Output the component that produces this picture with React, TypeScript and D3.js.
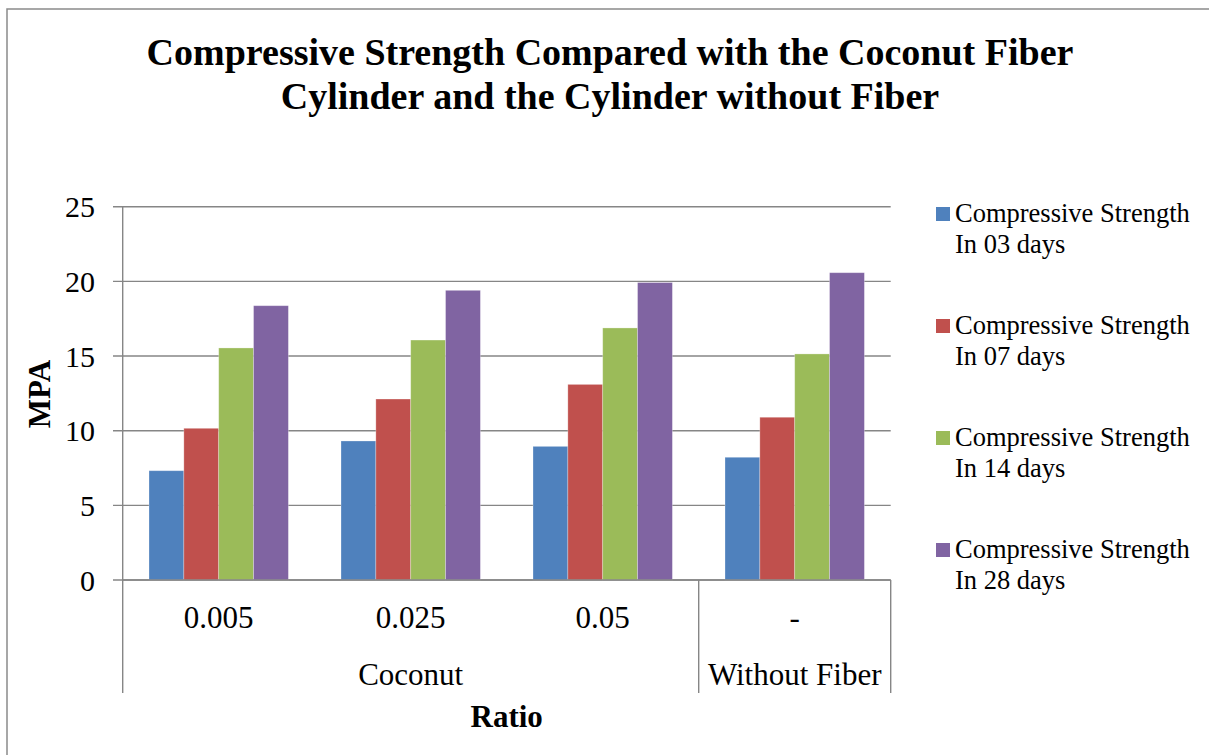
import React from "react";
import * as d3 from "d3";

const categories = ["0.005", "0.025", "0.05", "-"];
const groupLabels = ["Coconut", "Without Fiber"];
const groupSpans = [3, 1];
const seriesKeys = ["d03", "d07", "d14", "d28"];
const seriesLine1 = ["Compressive Strength", "Compressive Strength", "Compressive Strength", "Compressive Strength"];
const seriesLine2 = ["In 03 days", "In 07 days", "In 14 days", "In 28 days"];
const seriesColors = ["#4F81BD", "#C0504D", "#9BBB59", "#8064A2"];
const s03 = [7.32, 9.31, 8.95, 8.22];
const s07 = [10.16, 12.12, 13.1, 10.9];
const s14 = [15.54, 16.07, 16.88, 15.14];
const s28 = [18.37, 19.4, 19.92, 20.58];
const seriesValues = [s03, s07, s14, s28];
const yTicks = [0, 5, 10, 15, 20, 25];
const titleLines = ["Compressive Strength Compared with the Coconut Fiber", "Cylinder and the Cylinder without Fiber"];

const W = 1209;
const H = 755;
const plotL = 122.7;
const plotR = 890.7;
const plotT = 206.7;
const plotB = 580;
const font = "Tinos, 'Times New Roman', Times, 'Liberation Serif', 'DejaVu Serif', serif";
const grid = "#868686";
const ts = { fontFamily: font };

export default function App() {
  const x0 = d3.scaleBand<string>().domain(categories).range([plotL, plotR]).paddingInner(0.274).paddingOuter(0.137);
  const x1 = d3.scaleBand<string>().domain(seriesKeys).range([0, x0.bandwidth()]);
  const y = d3.scaleLinear().domain([0, 25]).range([plotB, plotT]);
  const step = x0.step();

  let acc = 0;
  const groupBounds = groupSpans.map((s) => {
    const a = acc;
    acc += s;
    return [a, acc];
  });

  return (
    <svg width={W} height={H} style={{ position: "absolute", left: 0, top: 0, background: "#fff", fontFamily: font }}>
      <rect x={7} y={9} width={W + 10} height={H + 10} fill="#fff" stroke="#8a8a8a" strokeWidth={1.5} />
      {titleLines.map((t, i) => (
        <text key={t} x={610} y={65 + i * 44} textAnchor="middle" fontSize={38} fontWeight="bold" fill="#000" style={ts}>
          {t}
        </text>
      ))}
      {yTicks.map((t) => (
        <g key={t}>
          <line x1={113} x2={plotR} y1={y(t)} y2={y(t)} stroke={grid} strokeWidth={1.4} />
          <text x={95} y={y(t)} dy="0.35em" textAnchor="end" fontSize={30} fill="#000" style={ts}>
            {t}
          </text>
        </g>
      ))}
      <line x1={plotL} x2={plotL} y1={plotT} y2={693} stroke={grid} strokeWidth={1.4} />
      {seriesValues.map((vals, si) =>
        categories.map((c, ci) => (
          <rect
            key={si + "-" + ci}
            x={(x0(c) as number) + (x1(seriesKeys[si]) as number)}
            y={y(vals[ci])}
            width={x1.bandwidth()}
            height={plotB - y(vals[ci])}
            fill={seriesColors[si]}
            stroke="#ffffff"
            strokeOpacity={0.35}
            strokeWidth={0.8}
          />
        ))
      )}
      <line x1={plotL} x2={plotR} y1={plotB} y2={plotB} stroke={grid} strokeWidth={1.4} />
      {groupBounds.map(([a, b], gi) => (
        <g key={gi}>
          <line x1={plotL + b * step} x2={plotL + b * step} y1={plotB} y2={693} stroke={grid} strokeWidth={1.4} />
          <text x={plotL + ((a + b) / 2) * step} y={685} textAnchor="middle" fontSize={31} fill="#000" style={ts}>
            {groupLabels[gi]}
          </text>
        </g>
      ))}
      {categories.map((c) => (
        <text key={c} x={(x0(c) as number) + x0.bandwidth() / 2} y={628} textAnchor="middle" fontSize={31} fill="#000" style={ts}>
          {c}
        </text>
      ))}
      <text x={(plotL + plotR) / 2} y={727} textAnchor="middle" fontSize={31} fontWeight="bold" fill="#000" style={ts}>
        Ratio
      </text>
      <text transform={`translate(49.5, 394) rotate(-90)`} textAnchor="middle" fontSize={31} fontWeight="bold" fill="#000" style={ts}>
        MPA
      </text>
      {seriesKeys.map((k, i) => (
        <g key={k} transform={`translate(936, ${207 + i * 112})`}>
          <rect x={0} y={0} width={14} height={14} fill={seriesColors[i]} />
          <text x={19} y={15} fontSize={26.5} fill="#000" style={ts}>
            {seriesLine1[i]}
          </text>
          <text x={19} y={46} fontSize={26.5} fill="#000" style={ts}>
            {seriesLine2[i]}
          </text>
        </g>
      ))}
    </svg>
  );
}
